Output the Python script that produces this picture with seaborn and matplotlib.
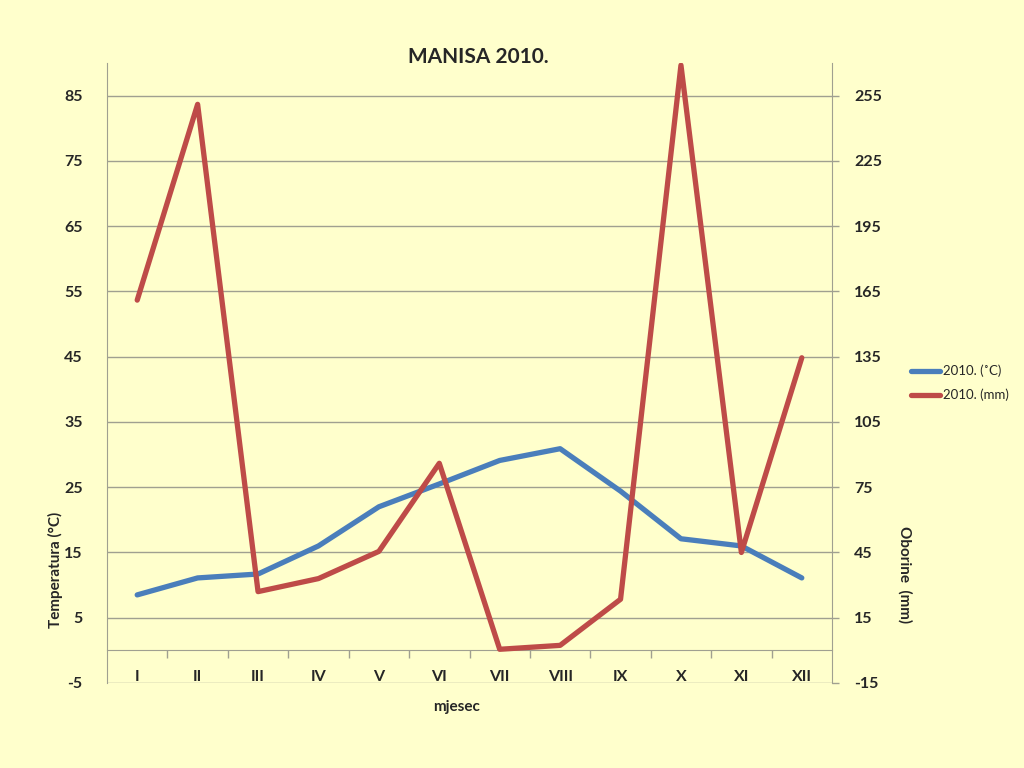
import numpy as np
import pandas as pd
import matplotlib
matplotlib.use("Agg")
import matplotlib.pyplot as plt
import seaborn as sns
from matplotlib.ticker import FixedLocator, NullFormatter

months = ["I", "II", "III", "IV", "V", "VI", "VII", "VIII", "IX", "X", "XI", "XII"]
temperature = [8.5, 11.1, 11.7, 16.0, 22.0, 25.5, 29.1, 30.9, 24.4, 17.1, 16.0, 11.1]
precipitation = [161, 251, 27, 33, 45.5, 86, 0.5, 2.3, 23.5, 269, 45, 134.5]
temp_ticks = [-5, 5, 15, 25, 35, 45, 55, 65, 75, 85]
prec_ticks = [-15, 15, 45, 75, 105, 135, 165, 195, 225, 255]

sns.set_style("white")
plt.rcParams["font.family"] = ["Lato", "DejaVu Sans"]

bg = "#FFFFCC"
blue = "#4A7EBB"
red = "#BE4B48"
grid_c = "#A0A090"

df = pd.DataFrame({"pos": np.arange(len(months)), "month": months,
                   "temp": temperature, "prec": precipitation})

fig = plt.figure(figsize=(10.24, 7.68), dpi=100, facecolor=bg)
ax = fig.add_axes([107/1024, 1-683/768, (832-107)/1024, (683-63)/768])
ax.set_facecolor(bg)
ax2 = ax.twinx()

sns.lineplot(data=df, x="pos", y="temp", ax=ax, color=blue, linewidth=3.8,
             sort=False, label="2010. (˚C)", legend=False, zorder=3)
sns.lineplot(data=df, x="pos", y="prec", ax=ax2, color=red, linewidth=3.8,
             sort=False, label="2010. (mm)", legend=False, zorder=3)

ax.set_xlim(-0.5, len(months) - 0.5)
ax.set_ylim(-5, 90)
ax2.set_ylim(-15, 270)

# gridlines
for t in temp_ticks:
    ax.axhline(t, color=grid_c, linewidth=1.0, zorder=1)

ax.set_yticks(temp_ticks)
ax.set_yticklabels([str(t) for t in temp_ticks], fontsize=11.5, fontweight="bold")
ax2.set_yticks(prec_ticks)
ax2.set_yticklabels([str(t) for t in prec_ticks], fontsize=11.5, fontweight="bold")
ax.tick_params(axis="y", left=False, pad=14)
ax2.tick_params(axis="y", right=True, length=5, width=1, color=grid_c, pad=11)

# category axis crossing at 0
ax.spines["bottom"].set_position(("data", 0))
ax.spines["bottom"].set_color(grid_c)
ax.set_xticks(df["pos"])
ax.set_xticklabels(months, fontsize=11.5, fontweight="bold")
ax.tick_params(axis="x", which="major", bottom=False, length=0, pad=14)
ax.xaxis.set_minor_locator(FixedLocator(np.arange(0.5, len(months) - 0.5, 1)))
ax.xaxis.set_minor_formatter(NullFormatter())
ax.tick_params(axis="x", which="minor", bottom=True, length=6, width=1,
               color=grid_c, direction="out")

for a in (ax, ax2):
    a.spines["top"].set_visible(False)
    a.set_xlabel("")
    a.set_ylabel("")
ax2.spines["bottom"].set_visible(False)
ax.spines["left"].set_color(grid_c)
ax2.spines["right"].set_color(grid_c)
ax2.spines["left"].set_visible(False)
ax.spines["right"].set_visible(False)

fig.text(478/1024, 1-57/768, "MANISA 2010.", ha="center", va="center",
         fontsize=15, fontweight="bold")
fig.text(457/1024, 1-707/768, "mjesec", ha="center", va="center",
         fontsize=11, fontweight="bold")
fig.text(55/1024, 1-570/768, "Temperatura (°C)", ha="center", va="center",
         rotation=90, fontsize=11, fontweight="bold")
fig.text(905/1024, 1-575/768, "Oborine  (mm)", ha="center", va="center",
         rotation=-90, fontsize=11, fontweight="bold")

h1, l1 = ax.get_legend_handles_labels()
h2, l2 = ax2.get_legend_handles_labels()
fig.legend(h1 + h2, l1 + l2, loc="center left",
           bbox_to_anchor=(899/1024, 1-383/768), frameon=False, fontsize=9.5,
           handlelength=2.2, handletextpad=0.25, labelspacing=0.85)

fig.savefig("out.png", dpi=100, facecolor=bg)
